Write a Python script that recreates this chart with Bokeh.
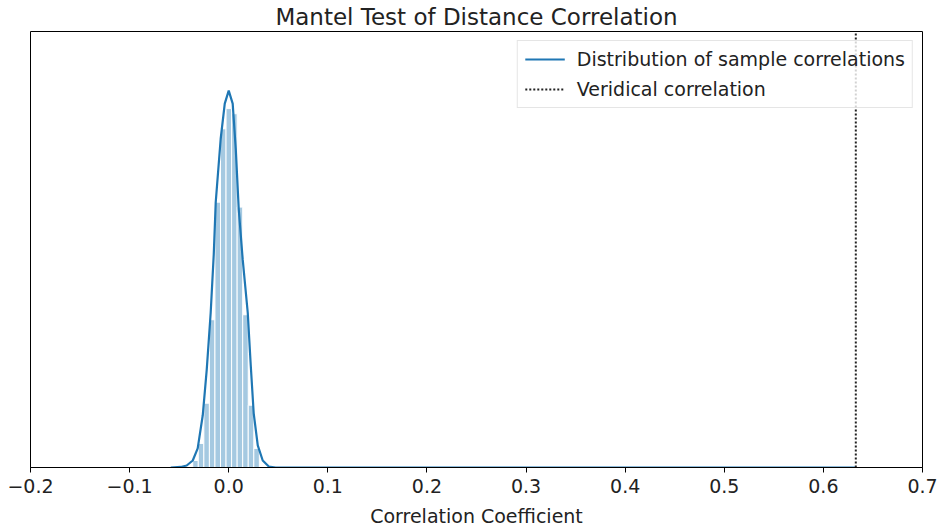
from bokeh.plotting import figure
from bokeh.models import Range1d, FixedTicker, Legend, LegendItem
from bokeh.embed import file_html
from bokeh.resources import INLINE

# Histogram of permuted (sample) correlations: bin left edges, width, density
bin_left = [-0.0363, -0.0307, -0.0251, -0.0195, -0.0139, -0.0083, -0.0027,
            0.0029, 0.0085, 0.0141, 0.0197, 0.0253]
bin_width = 0.0056
bin_density = [0.52, 1.79, 4.78, 10.98, 19.72, 25.17, 26.67, 26.29, 19.35,
               11.35, 4.63, 1.42]

# KDE of the sample correlations
kde_x = [-0.0585, -0.0484, -0.0424, -0.0363, -0.0313, -0.0262, -0.0222, -0.0182,
         -0.0151, -0.0131, -0.0081, -0.0040, 0.0, 0.0040, 0.0071, 0.0101, 0.0141,
         0.0192, 0.0222, 0.0252, 0.0293, 0.0343, 0.0404, 0.0474, 0.6327]
kde_y = [0.0, 0.04, 0.15, 0.52, 1.42, 3.88, 7.25, 11.50, 15.84, 19.72, 24.43,
         27.04, 28.01, 27.04, 23.68, 19.20, 15.46, 11.50, 7.62, 4.03, 1.64, 0.52,
         0.07, 0.0, 0.0]

veridical = 0.6327
x_ticks = [-0.2, -0.1, 0.0, 0.1, 0.2, 0.3, 0.4, 0.5, 0.6, 0.7]
x_tick_labels = ["\u22120.2", "\u22120.1", "0.0", "0.1", "0.2", "0.3", "0.4", "0.5", "0.6", "0.7"]
y_max = 32.4

FONT = "DejaVu Sans"
BLUE = "#1f77b4"

p = figure(width=938, height=529, output_backend="svg", toolbar_location=None,
           x_range=Range1d(-0.2, 0.7), y_range=Range1d(0, y_max),
           min_border_left=30, min_border_right=16, min_border_top=0,
           min_border_bottom=62)

p.title.text = "Mantel Test of Distance Correlation"
p.title.align = "center"
p.title.text_font = FONT
p.title.text_font_size = "23px"
p.title.text_font_style = "normal"
p.title.text_color = "#222222"
p.title.standoff = 3
p.title.offset = 0

rights = [l + bin_width for l in bin_left]
p.quad(left=bin_left, right=rights, bottom=0, top=bin_density,
       fill_color=BLUE, fill_alpha=0.4, line_color="white", line_width=1)

kde_r = p.line(kde_x, kde_y, line_color=BLUE, line_width=2.2)
v_r = p.line([veridical, veridical], [0, y_max], line_color="#222222",
             line_width=2, line_dash="2 2")

p.xgrid.visible = False
p.ygrid.visible = False
p.yaxis.visible = False
p.outline_line_color = "black"
p.outline_line_alpha = 1
p.outline_line_width = 1

ax = p.xaxis[0]
ax.ticker = FixedTicker(ticks=x_ticks)
ax.major_label_overrides = {t: s for t, s in zip(x_ticks, x_tick_labels)}
ax.minor_tick_line_color = None
ax.major_tick_out = 5
ax.major_tick_in = 0
ax.axis_line_color = "black"
ax.major_label_text_font = FONT
ax.major_label_text_font_size = "19px"
ax.major_label_text_color = "#222222"
ax.axis_label = "Correlation Coefficient"
ax.axis_label_text_font = FONT
ax.axis_label_text_font_size = "19px"
ax.axis_label_text_font_style = "normal"
ax.axis_label_text_color = "#222222"
ax.axis_label_standoff = 9
ax.major_label_standoff = 6

legend = Legend(items=[LegendItem(label="Distribution of sample correlations", renderers=[kde_r]),
                       LegendItem(label="Veridical correlation", renderers=[v_r])],
                location="top_right")
legend.label_text_font = FONT
legend.label_text_font_size = "19px"
legend.label_text_color = "#222222"
legend.label_height = 22
legend.glyph_height = 22
legend.border_line_color = "#cccccc"
legend.background_fill_alpha = 0.8
legend.glyph_width = 40
legend.label_standoff = 12
legend.padding = 7
legend.spacing = 8
legend.margin = 9
p.add_layout(legend)

open("out.html", "w").write(file_html(p, INLINE))
